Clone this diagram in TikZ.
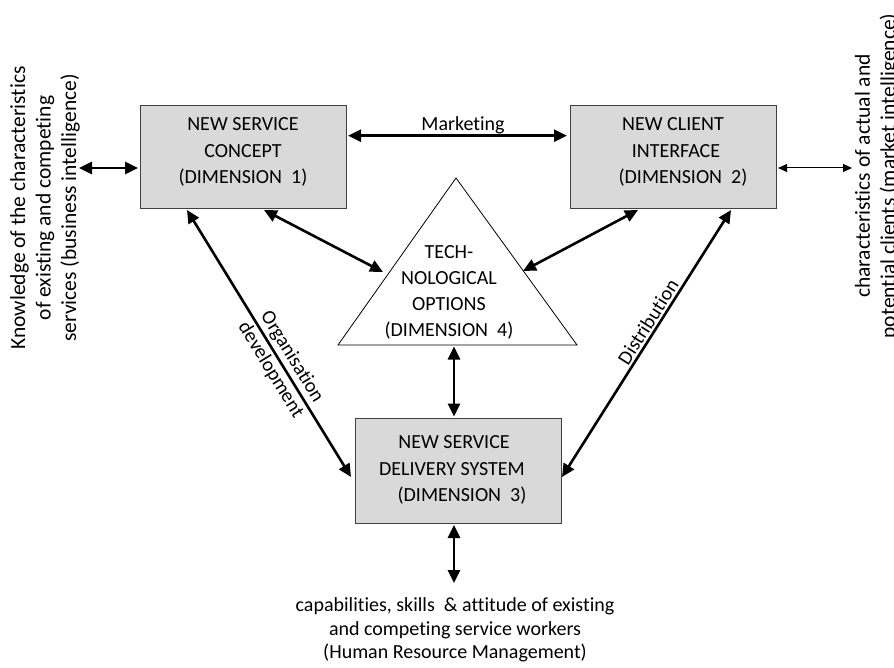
\documentclass[tikz,border=0pt]{standalone}
\usepackage{fontspec}
\setmainfont[Ligatures=NoCommon]{Carlito}
\usetikzlibrary{arrows.meta}

\tikzset{
  dimbox/.style={draw=black!75, line width=0.9pt, fill=black!15, minimum width=206pt, minimum height=103pt, inner sep=0pt},
  lbl/.style={font=\fontsize{20}{26.5}\selectfont, align=center, inner sep=0pt},
  sidelbl/.style={font=\fontsize{21.5}{25.5}\selectfont, align=center, inner sep=0pt, rotate=90},
  link/.style={line width=2.6pt, {Triangle[length=13pt,width=12pt]}-{Triangle[length=13pt,width=12pt]}},
  thinlink/.style={line width=1pt, {Triangle[length=9pt,width=8pt]}-{Triangle[length=9pt,width=8pt]}},
}

\begin{document}
\begin{tikzpicture}[x=1pt, y=-1pt]
  \useasboundingbox (0,0) rectangle (894,668);

  % the three dimension boxes
  \node[dimbox] (concept) at (243,156.5) {};
  \node[dimbox] (client) at (673,156.5) {};
  \node[dimbox, minimum height=105pt] (delivery) at (458,470.5) {};

  \node[lbl] (conceptTxt) at (243,152) {NEW SERVICE\\CONCEPT\\(DIMENSION\ \ 1)};
  \node[lbl] (clientTxt) at (676,152) {NEW CLIENT\hspace*{6pt}\\INTERFACE\hspace*{6pt}\\\hspace*{14pt}(DIMENSION\ \ 2)};
  \node[lbl] (deliveryTxt) at (452,470) {\hspace*{4pt}NEW SERVICE\\DELIVERY SYSTEM\hspace*{2pt}\\\hspace*{20pt}(DIMENSION\ \ 3)};

  % technological options triangle
  \coordinate (apex) at (456,178);
  \coordinate (baseL) at (338,345);
  \coordinate (baseR) at (577,345);
  \draw[line width=0.8pt, fill=white] (apex) -- (baseL) -- (baseR) -- cycle;
  \node[lbl, font=\fontsize{20}{26}\selectfont] (techTxt) at (449,292.5) {TECH-\\NOLOGICAL\\OPTIONS\\(DIMENSION\ \ 4)};

  % connector end points
  \coordinate (cR) at (348,135.7);
  \coordinate (clL) at (567,135.7);
  \coordinate (cB1) at (264,210);
  \coordinate (tL) at (383,272);
  \coordinate (clB1) at (638,210);
  \coordinate (tR) at (523,271);
  \coordinate (cB2) at (187,210);
  \coordinate (dL) at (351,477);
  \coordinate (clB2) at (731,210);
  \coordinate (dR) at (562,477);
  \coordinate (tB) at (454,346.5);
  \coordinate (dT) at (454,416.5);
  \coordinate (dB) at (454,525);
  \coordinate (hrm) at (454,583);
  \coordinate (cL) at (138,168);
  \coordinate (biz) at (79,168);
  \coordinate (clR) at (778,168);
  \coordinate (mkt) at (852,168);

  % connectors
  \draw[link] (cR) -- (clL);
  \node[lbl] (mktTxt) at (463,125) {Marketing};
  \draw[link] (cB1) -- (tL);
  \draw[link] (clB1) -- (tR);
  \draw[link] (cB2) -- (dL)
    node[pos=0.575, sloped, lbl, font=\fontsize{20}{25}\selectfont] (orgTxt) {Organisation\\development};
  \draw[link] (dR) -- (clB2)
    node[pos=0.56, sloped, anchor=south, inner sep=2pt, font=\fontsize{20}{24}\selectfont] (distTxt) {Distribution};
  \draw[link] (tB) -- (dT);
  \draw[link] (dB) -- (hrm);
  \draw[link] (biz) -- (cL);
  \draw[thinlink] (clR) -- (mkt);

  % outside knowledge sources
  \node[sidelbl] (bizTxt) at (45,208) {Knowledge of the characteristics\\of existing and competing\\services (business intelligence)};
  \node[sidelbl] (mktSrc) at (877,176) {characteristics of actual and\\potential clients (market intelligence)};
  \node[lbl, font=\fontsize{20}{23.5}\selectfont] (hrmTxt) at (455,630) {capabilities, skills \ \& attitude of existing\\and competing service workers\\(Human Resource Management)};
\end{tikzpicture}
\end{document}
